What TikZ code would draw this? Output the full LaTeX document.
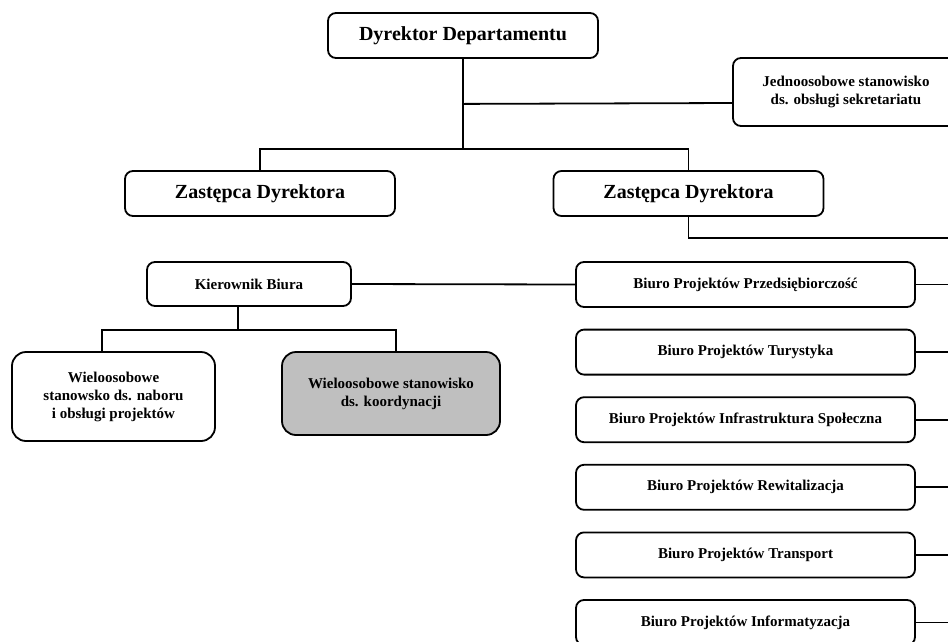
\documentclass[tikz,border=0pt]{standalone}
\usepackage{fontspec}
\setmainfont{Liberation Serif}
\usetikzlibrary{positioning}

\begin{document}
\begin{tikzpicture}[x=1pt, y=-1pt, line width=1.8pt, node distance=67.6pt, on grid,
    unit/.style={draw, rounded corners=8pt, align=center, inner sep=2pt,
        font=\bfseries\fontsize{15}{18}\selectfont},
    post/.style={unit, font=\bfseries\fontsize{20}{24}\selectfont,
        minimum width=270pt, minimum height=45pt},
    biuro/.style={unit, minimum width=339pt, minimum height=45pt},
    team/.style={unit, rounded corners=14pt}]
    \useasboundingbox (0,0) rectangle (948,641);
    \clip (0,0) rectangle (948,641);
    \node [post] (dyr) at (463,35.5) {Dyrektor Departamentu};
    \node [unit, minimum width=226pt, minimum height=68pt] (sek) at (846,92)
        {Jednoosobowe stanowisko\\ds. obsługi sekretariatu};
    \node [post] (z_l) at (260,193.5) {Zastępca Dyrektora};
    \node [post] [right=428.5pt of z_l] (z_r) {Zastępca Dyrektora};
    \node [unit, minimum width=204pt, minimum height=44pt] (kier) at (249,284) {Kierownik Biura};
    \node [team, minimum width=203pt, minimum height=89pt] (w_l) at (113.5,396.5)
        {Wieloosobowe\\stanowsko ds. naboru\\i obsługi projektów};
    \node [team, fill=gray!50, minimum width=218pt, minimum height=83pt] (w_r) at (391,393.5)
        {Wieloosobowe stanowisko\\ds. koordynacji};
    \node [biuro] (b_1) at (745.5,284.5) {Biuro Projektów Przedsiębiorczość};
    \node [biuro] [below=of b_1] (b_2) {Biuro Projektów Turystyka};
    \node [biuro] [below=of b_2] (b_3) {Biuro Projektów Infrastruktura Społeczna};
    \node [biuro] [below=of b_3] (b_4) {Biuro Projektów Rewitalizacja};
    \node [biuro] [below=of b_4] (b_5) {Biuro Projektów Transport};
    \node [biuro] [below=of b_5] (b_6) {Biuro Projektów Informatyzacja};
    % lines running on past the right edge
    \coordinate (e_z) at (960,238);
    \draw (dyr.south) -- ++(0,90) coordinate (d_hub) -| (z_l.north);
    \draw (d_hub) -| (z_r.north);
    \draw (dyr.south) ++(0,45) -- ([yshift=-11pt]sek.west);
    \draw (z_r.south) |- (e_z);
    \draw (kier.east) -- (b_1.west);
    \draw ([xshift=-11pt]kier.south) -- ++(0,23) coordinate (k_hub) -| ([xshift=-11.5pt]w_l.north);
    \draw (k_hub) -| ([xshift=5pt]w_r.north);
    \foreach \i in {1,...,6}
        \draw (b_\i.east) -- (b_\i.east -| e_z);
\end{tikzpicture}
\end{document}
